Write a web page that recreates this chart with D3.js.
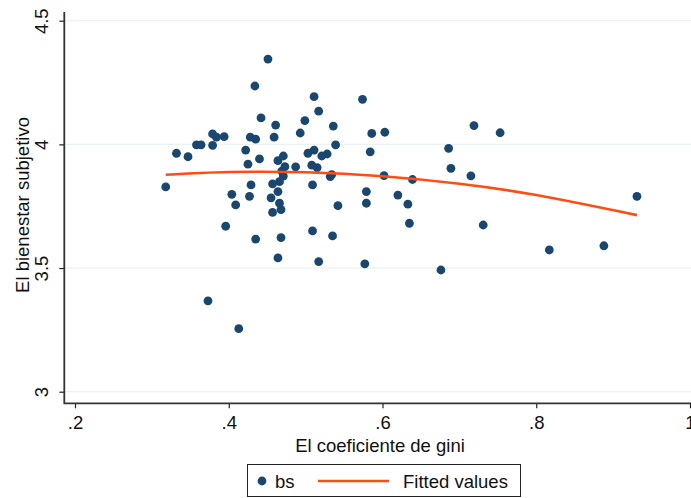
<!DOCTYPE html>
<html>
<head>
<meta charset="utf-8">
<script src="https://cdn.jsdelivr.net/npm/d3@7"></script>
<style>
  body { margin: 0; background: #fff; }
  svg { display: block; font-family: "Liberation Sans", Arial, sans-serif; }
</style>
</head>
<body>
<div id="wrapper"></div>
<script>
// gini coefficient (x) and subjective well-being (y)
const gini = [
  0.318, 0.332, 0.347, 0.358, 0.364, 0.379, 0.379, 0.384, 0.394, 0.373,
  0.396, 0.413, 0.404, 0.409, 0.422, 0.425, 0.428, 0.435, 0.434, 0.451,
  0.440, 0.442, 0.461, 0.459, 0.429, 0.427, 0.435, 0.457, 0.466, 0.471,
  0.469, 0.464, 0.471, 0.473, 0.464, 0.455, 0.466, 0.468, 0.457, 0.468,
  0.464, 0.487, 0.493, 0.499, 0.511, 0.517, 0.503, 0.511, 0.521, 0.528,
  0.508, 0.515, 0.509, 0.532, 0.534, 0.536, 0.539, 0.542, 0.509, 0.535,
  0.517, 0.574, 0.586, 0.603, 0.584, 0.602, 0.579, 0.579, 0.620, 0.633,
  0.635, 0.639, 0.577, 0.686, 0.689, 0.715, 0.719, 0.753, 0.731, 0.676,
  0.817, 0.888, 0.931
];
const bs = [
  3.828, 3.964, 3.950, 3.998, 3.998, 3.996, 4.042, 4.029, 4.031, 3.367,
  3.669, 3.255, 3.798, 3.755, 3.977, 3.920, 4.029, 4.021, 4.236, 4.345,
  3.941, 4.107, 4.078, 4.029, 3.836, 3.790, 3.617, 3.840, 3.849, 3.872,
  3.892, 3.934, 3.953, 3.910, 3.809, 3.784, 3.762, 3.736, 3.725, 3.623,
  3.541, 3.909, 4.046, 4.096, 4.193, 4.134, 3.964, 3.977, 3.953, 3.961,
  3.916, 3.906, 3.836, 3.870, 3.878, 4.074, 3.998, 3.752, 3.650, 3.630,
  3.526, 4.182, 4.044, 4.049, 3.970, 3.874, 3.809, 3.762, 3.795, 3.758,
  3.681, 3.858, 3.517, 3.984, 3.903, 3.873, 4.076, 4.047, 3.674, 3.492,
  3.573, 3.590, 3.790
];

// fitted values line, read at a few gini values
const fitGini = [0.318, 0.40, 0.50, 0.60, 0.70, 0.80, 0.931];
const fitBs = [3.877, 3.888, 3.887, 3.871, 3.841, 3.795, 3.714];

const xTicks = [0.2, 0.4, 0.6, 0.8, 1];
const yTicks = [3, 3.5, 4, 4.5];
const legendLabels = ["bs", "Fitted values"];

const points = gini.map((g, i) => ({ x: g, y: bs[i] }));
const fit = fitGini.map((g, i) => ({ x: g, y: fitBs[i] }));

const width = 691;
const height = 498;
const plot = { left: 64.3, right: 691, top: 12, bottom: 403.3 };
const fontSize = 18.5;

const svg = d3
  .select("#wrapper")
  .append("svg")
  .attr("width", width)
  .attr("height", height);

const xScale = d3.scaleLinear().domain([0.2, 1]).range([75, 690]);
const yScale = d3.scaleLinear().domain([3, 4.5]).range([391.7, 20.7]);

const fmt = (d) => (d === 1 ? "1" : String(d).replace(/^0/, ""));

// grid lines
svg
  .append("g")
  .selectAll("line")
  .data(yTicks)
  .join("line")
  .attr("x1", plot.left)
  .attr("x2", plot.right)
  .attr("y1", (d) => yScale(d))
  .attr("y2", (d) => yScale(d))
  .attr("stroke", "#eaf2f3")
  .attr("stroke-width", 1.3);

// axes
const xAxis = svg
  .append("g")
  .attr("transform", `translate(0, ${plot.bottom})`)
  .call(d3.axisBottom(xScale).tickValues(xTicks).tickSize(5).tickFormat(fmt));
xAxis.select(".domain").remove();
xAxis.selectAll(".tick line").attr("stroke", "#222").attr("stroke-width", 1.2);
xAxis
  .selectAll(".tick text")
  .attr("font-size", fontSize)
  .attr("fill", "#111")
  .attr("y", 13);

const yAxis = svg
  .append("g")
  .attr("transform", `translate(${plot.left}, 0)`)
  .call(d3.axisLeft(yScale).tickValues(yTicks).tickSize(5).tickFormat(fmt));
yAxis.select(".domain").remove();
yAxis.selectAll(".tick line").attr("stroke", "#222").attr("stroke-width", 1.2);
yAxis
  .selectAll(".tick text")
  .attr("font-size", fontSize)
  .attr("fill", "#111")
  .attr("x", 0)
  .attr("y", 0)
  .attr("dy", 0)
  .attr("text-anchor", "middle")
  .attr("transform", "translate(-16, 0) rotate(-90)");

svg
  .append("path")
  .attr("d", `M${plot.left},${plot.top}V${plot.bottom}H${plot.right}`)
  .attr("fill", "none")
  .attr("stroke", "#333")
  .attr("stroke-width", 1.8);

// axis titles
svg
  .append("text")
  .attr("x", 380)
  .attr("y", 452)
  .attr("text-anchor", "middle")
  .attr("font-size", fontSize)
  .attr("fill", "#111")
  .text("El coeficiente de gini");

svg
  .append("text")
  .attr("transform", "translate(28.5, 205) rotate(-90)")
  .attr("text-anchor", "middle")
  .attr("font-size", fontSize)
  .attr("fill", "#111")
  .text("El bienestar subjetivo");

// points
svg
  .append("g")
  .selectAll("circle")
  .data(points)
  .join("circle")
  .attr("cx", (d) => xScale(d.x))
  .attr("cy", (d) => yScale(d.y))
  .attr("r", 4.4)
  .attr("fill", "#1a476f");

// fitted line
const lineGenerator = d3
  .line()
  .x((d) => xScale(d.x))
  .y((d) => yScale(d.y))
  .curve(d3.curveNatural);

svg
  .append("path")
  .datum(fit)
  .attr("d", lineGenerator)
  .attr("fill", "none")
  .attr("stroke", "#ff4d12")
  .attr("stroke-width", 2.6);

// legend
const legend = svg.append("g");
legend
  .append("rect")
  .attr("x", 247.5)
  .attr("y", 464.5)
  .attr("width", 273)
  .attr("height", 32)
  .attr("fill", "#fff")
  .attr("stroke", "#222")
  .attr("stroke-width", 1);
legend
  .append("circle")
  .attr("cx", 262)
  .attr("cy", 481)
  .attr("r", 4.4)
  .attr("fill", "#1a476f");
legend
  .append("text")
  .attr("x", 275)
  .attr("y", 488)
  .attr("font-size", fontSize)
  .attr("fill", "#111")
  .text(legendLabels[0]);
legend
  .append("line")
  .attr("x1", 318)
  .attr("x2", 389)
  .attr("y1", 481)
  .attr("y2", 481)
  .attr("stroke", "#ff4d12")
  .attr("stroke-width", 2.6);
legend
  .append("text")
  .attr("x", 403)
  .attr("y", 488)
  .attr("font-size", fontSize)
  .attr("fill", "#111")
  .text(legendLabels[1]);
</script>
</body>
</html>
